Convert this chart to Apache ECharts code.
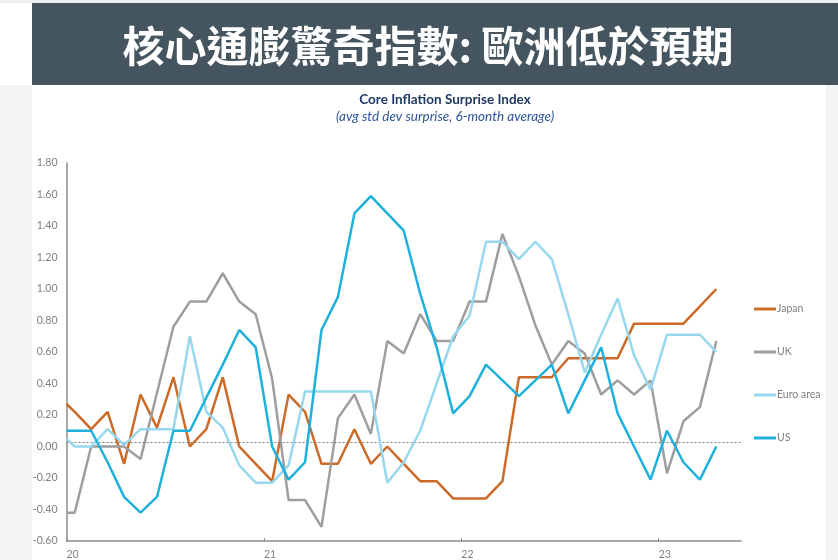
<!DOCTYPE html>
<html>
<head>
<meta charset="utf-8">
<script src="https://cdn.jsdelivr.net/npm/echarts@6/dist/echarts.min.js"></script>
<style>
html,body{margin:0;padding:0;background:#ffffff;}
#c{width:838px;height:560px;}
</style>
</head>
<body>
<div id="c"></div>
<script>
// x positions in months since Jan 2020 (tick "20" = 0)
var months = [0, 0.5, 1.5, 2.5, 3.5, 4.5, 5.5, 6.5, 7.5, 8.5, 9.5, 10.5, 11.5, 12.5, 13.5, 14.5, 15.5, 16.5, 17.5, 18.5, 19.5,
  20.5, 21.5, 22.5, 23.5, 24.5, 25.5, 26.5, 27.5, 28.5, 29.5, 30.5, 31.5, 32.5, 33.5, 34.5, 35.5, 36.5, 37.5, 38.5, 39.5];
var yearTicks = {0: '20', 12: '21', 24: '22', 36: '23'};
var seriesNames = ['Japan', 'UK', 'Euro area', 'US'];
var japan = [0.27, 0.22, 0.11, 0.22, -0.11, 0.33, 0.12, 0.44, 0.00, 0.11, 0.44, 0.00, -0.11, -0.22, 0.33, 0.22, -0.11, -0.11, 0.11, -0.11, 0.00,
  -0.11, -0.22, -0.22, -0.33, -0.33, -0.33, -0.22, 0.44, 0.44, 0.44, 0.56, 0.56, 0.56, 0.56, 0.78, 0.78, 0.78, 0.78, 0.89, 1.00];
var uk = [-0.42, -0.42, 0.00, 0.00, 0.00, -0.08, 0.34, 0.76, 0.92, 0.92, 1.10, 0.92, 0.84, 0.43, -0.34, -0.34, -0.51, 0.18, 0.33, 0.08, 0.67,
  0.59, 0.84, 0.67, 0.67, 0.92, 0.92, 1.35, 1.08, 0.77, 0.52, 0.67, 0.59, 0.33, 0.42, 0.33, 0.42, -0.17, 0.16, 0.25, 0.67];
var euro = [0.05, 0.00, 0.00, 0.11, 0.01, 0.11, 0.11, 0.11, 0.70, 0.22, 0.12, -0.12, -0.23, -0.23, -0.12, 0.35, 0.35, 0.35, 0.35, 0.35, -0.23,
  -0.10, 0.10, 0.40, 0.70, 0.83, 1.30, 1.30, 1.19, 1.30, 1.19, 0.84, 0.47, 0.71, 0.94, 0.58, 0.36, 0.71, 0.71, 0.71, 0.60];
var us = [0.10, 0.10, 0.10, -0.10, -0.32, -0.42, -0.32, 0.10, 0.10, 0.31, 0.52, 0.74, 0.63, 0.00, -0.21, -0.10, 0.74, 0.95, 1.48, 1.59, 1.48,
  1.37, 0.97, 0.63, 0.21, 0.32, 0.52, 0.42, 0.32, 0.42, 0.52, 0.21, 0.42, 0.63, 0.21, 0.00, -0.21, 0.10, -0.10, -0.21, 0.00];
var refLevel = 0.03;

var colors = ['#cc6a28', '#9e9e9e', '#97d8ee', '#1fb1dc'];
var values = [japan, uk, euro, us];

function pairs(arr) {
  return months.map(function (m, i) { return [m, arr[i]]; });
}

var series = seriesNames.map(function (name, k) {
  return {
    name: name,
    type: 'line',
    data: pairs(values[k]),
    symbol: 'none',
    lineStyle: { color: colors[k], width: 2.5 },
    itemStyle: { color: colors[k] },
    z: 3 + k
  };
});
series[1].markLine = {
  silent: true,
  symbol: 'none',
  label: { show: false },
  lineStyle: { color: '#7f7f7f', type: [2, 2], width: 1 },
  data: [{ yAxis: refLevel }]
};

var chart = echarts.init(document.getElementById('c'));
chart.setOption({
  backgroundColor: '#ffffff',
  animation: false,
  color: colors,
  graphic: [
    { type: 'rect', z: -10, shape: { x: 0, y: 85, width: 32, height: 475 }, style: { fill: '#f4f4f4' } },
    { type: 'rect', z: -10, shape: { x: 826, y: 85, width: 12, height: 475 }, style: { fill: '#f4f4f4' } },
    { type: 'rect', z: -10, shape: { x: 0, y: 0, width: 838, height: 3 }, style: { fill: '#eeeeee' } },
    { type: 'rect', z: -9, shape: { x: 32, y: 3, width: 806, height: 82 }, style: { fill: '#45555f' } },
    {
      type: 'text', z: 10, x: 428, y: 46,
      style: {
        text: '核心通膨驚奇指數: 歐洲低於預期',
        fill: '#ffffff',
        font: 'bold 42px "Noto Sans CJK TC", sans-serif',
        align: 'center',
        verticalAlign: 'middle'
      }
    }
  ],
  title: {
    text: 'Core Inflation Surprise Index',
    subtext: '(avg std dev surprise, 6-month average)',
    left: 440,
    top: 88,
    textAlign: 'center',
    itemGap: 3,
    textStyle: { fontFamily: 'Lato', fontWeight: 'bold', fontSize: 13.5, color: '#1f3864' },
    subtextStyle: { fontFamily: 'Lato', fontStyle: 'italic', fontSize: 13.5, color: '#2f5597' }
  },
  legend: {
    orient: 'vertical',
    left: 749,
    top: 298,
    itemWidth: 22,
    itemHeight: 3,
    itemGap: 31,
    icon: 'rect',
    data: seriesNames,
    textStyle: { fontFamily: 'Lato', fontSize: 10.5, color: '#7f7f7f', lineHeight: 12, padding: [0, 0, 0, -4] }
  },
  grid: { left: 66.5, right: 97, top: 163, bottom: 15, containLabel: false },
  xAxis: {
    type: 'value',
    min: 0,
    max: 41,
    interval: 12,
    axisLine: { show: true, onZero: false, lineStyle: { color: '#8c8c8c', width: 1.5 } },
    axisTick: { show: true, length: 3, inside: true, lineStyle: { color: '#8c8c8c' } },
    splitLine: { show: false },
    axisLabel: {
      color: '#808080',
      fontFamily: 'Lato',
      fontSize: 10.5,
      margin: 8,
      align: 'left',
      showMaxLabel: false,
      formatter: function (v) { return yearTicks[v] !== undefined ? yearTicks[v] : ''; }
    }
  },
  yAxis: {
    type: 'value',
    min: -0.6,
    max: 1.8,
    interval: 0.2,
    axisLine: { show: true, lineStyle: { color: '#8c8c8c', width: 1.5 } },
    axisTick: { show: false },
    splitLine: { show: false },
    axisLabel: {
      color: '#808080',
      fontFamily: 'Lato',
      fontSize: 10.5,
      margin: 9,
      formatter: function (v) { return v.toFixed(2); }
    }
  },
  series: series
});
</script>
</body>
</html>
